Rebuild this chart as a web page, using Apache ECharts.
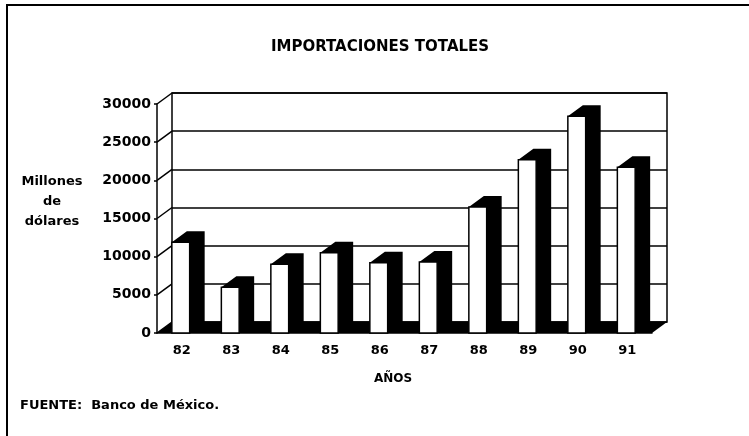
<!DOCTYPE html>
<html>
<head>
<meta charset="utf-8">
<script src="https://cdn.jsdelivr.net/npm/echarts@6/dist/echarts.min.js"></script>
<style>
  html, body { margin: 0; padding: 0; background: #fff; }
  #chart { width: 749px; height: 436px; }
</style>
</head>
<body>
<div id="chart"></div>
<script>
// datos
const years = ["82", "83", "84", "85", "86", "87", "88", "89", "90", "91"];
const imports = [11900, 6000, 9000, 10500, 9200, 9300, 16500, 22700, 28400, 21700];
const yTicks = [0, 5000, 10000, 15000, 20000, 25000, 30000];

const FONT = "DejaVu Sans";
// profundidad del efecto 3D
const DX = 15;
const DY = 11;

const chart = echarts.init(document.getElementById("chart"));

const option = {
    animation: false,
    title: {
        text: "IMPORTACIONES TOTALES",
        left: 375,
        top: 35,
        textAlign: "center",
        textStyle: { fontFamily: FONT, fontSize: 15, fontWeight: "bold", color: "#000" },
    },
    grid: [
        // plano frontal
        { left: 157, top: 104, width: 495, height: 229 },
        // pared del fondo
        {
            left: 157 + DX, top: 104 - DY, width: 495, height: 229,
            show: true, borderColor: "#000", borderWidth: 1.5, backgroundColor: "transparent",
        },
    ],
    xAxis: [
        {
            type: "category",
            gridIndex: 0,
            data: years,
            axisLine: { lineStyle: { color: "#000", width: 1.5 } },
            axisTick: { length: 4, lineStyle: { color: "#000", width: 1.5 } },
            axisLabel: { margin: 11, fontFamily: FONT, fontSize: 13, fontWeight: "bold", color: "#000" },
        },
        {
            type: "category",
            gridIndex: 1,
            data: years,
            show: false,
        },
    ],
    yAxis: [
        {
            type: "value",
            gridIndex: 0,
            min: 0,
            max: 30000,
            interval: 5000,
            axisLine: { show: true, lineStyle: { color: "#000", width: 1.5 } },
            axisTick: { show: true, length: 3, lineStyle: { color: "#000", width: 1.5 } },
            axisLabel: {
                margin: 6,
                formatter: (v) => String(v),
                fontFamily: FONT, fontSize: 14, fontWeight: "bold", color: "#000",
            },
            splitLine: { show: false },
        },
        {
            type: "value",
            gridIndex: 1,
            min: 0,
            max: 30000,
            interval: 5000,
            axisLine: { show: false },
            axisTick: { show: false },
            axisLabel: { show: false },
            splitLine: { show: true, lineStyle: { color: "#000", width: 1.5 } },
        },
    ],
    graphic: [
        {
            type: "rect",
            shape: { x: 7, y: 5, width: 800, height: 500 },
            style: { fill: "none", stroke: "#000", lineWidth: 2 },
        },
        {
            type: "text",
            x: 52,
            y: 172,
            style: {
                text: "Millones\nde\ndólares",
                textAlign: "center",
                lineHeight: 20,
                font: "bold 13px " + FONT,
                fill: "#000",
            },
        },
        {
            type: "text",
            x: 393,
            y: 373,
            style: { text: "AÑOS", textAlign: "center", font: "bold 12px " + FONT, fill: "#000" },
        },
        {
            type: "text",
            x: 20,
            y: 399,
            style: { text: "FUENTE:  Banco de México.", font: "bold 13px " + FONT, fill: "#000" },
        },
    ],
    series: [
        {
            // piso negro
            type: "custom",
            xAxisIndex: 0,
            yAxisIndex: 0,
            data: [[0, 0]],
            z: 1,
            silent: true,
            renderItem(params) {
                const cs = params.coordSys;
                const b = cs.y + cs.height;
                return {
                    type: "polygon",
                    shape: {
                        points: [
                            [cs.x, b], [cs.x + cs.width, b],
                            [cs.x + cs.width + DX, b - DY], [cs.x + DX, b - DY],
                        ],
                    },
                    style: { fill: "#000" },
                };
            },
        },
        {
            // pared izquierda
            type: "custom",
            xAxisIndex: 0,
            yAxisIndex: 0,
            data: yTicks.map((v) => [0, v]),
            z: 1,
            silent: true,
            renderItem(params, api) {
                const x = params.coordSys.x;
                const y = api.coord([0, api.value(1)])[1];
                return {
                    type: "line",
                    shape: { x1: x, y1: y, x2: x + DX, y2: y - DY },
                    style: { stroke: "#000", lineWidth: 1.5 },
                };
            },
        },
        {
            name: "Importaciones",
            type: "custom",
            xAxisIndex: 0,
            yAxisIndex: 0,
            data: imports.map((v, i) => [i, v]),
            z: 3,
            renderItem(params, api) {
                const idx = api.value(0);
                const base = api.coord([idx, 0]);
                const top = api.coord([idx, api.value(1)]);
                const band = api.size([1, 0])[0];
                const x0 = base[0] - band / 2 + band * 0.3;
                const w = band * 0.36;
                const x1 = x0 + w;
                return {
                    type: "group",
                    children: [
                        {
                            type: "polygon",
                            shape: {
                                points: [
                                    [x0, top[1]], [x0 + DX, top[1] - DY], [x1 + DX, top[1] - DY],
                                    [x1 + DX, base[1] - DY], [x1, base[1]], [x1, top[1]],
                                ],
                            },
                            style: { fill: "#000" },
                        },
                        {
                            type: "rect",
                            shape: { x: x0, y: top[1], width: w, height: base[1] - top[1] },
                            style: { fill: "#fff", stroke: "#000", lineWidth: 1.5 },
                        },
                    ],
                };
            },
        },
    ],
};

chart.setOption(option);
</script>
</body>
</html>
